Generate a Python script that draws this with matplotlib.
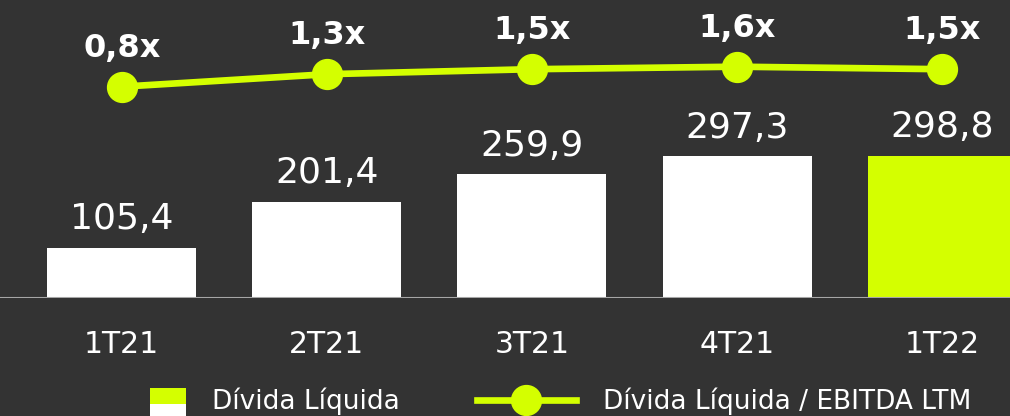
import matplotlib
matplotlib.use("Agg")
import matplotlib.pyplot as plt
from matplotlib.patches import Rectangle
from matplotlib.lines import Line2D

BG = "#333333"
LIME = "#D4FF00"
AXIS_GRAY = "#A6A6A6"

quarters = ["1T21", "2T21", "3T21", "4T21", "1T22"]
net_debt = [105.4, 201.4, 259.9, 297.3, 298.8]
leverage = [0.8, 1.3, 1.5, 1.6, 1.5]
bar_colors = ["white", "white", "white", "white", LIME]

plt.rcParams["font.family"] = ["DejaVu Sans"]


def br(v, suffix=""):
    # brazilian decimal comma
    return f"{v:.1f}".replace(".", ",") + suffix


class SplitSwatch:
    """Legend swatch: lime on top, white below (as in the slide)."""

    def legend_artist(self, legend, orig_handle, fontsize, handlebox):
        w, h = handlebox.width, handlebox.height
        x0, y0 = -handlebox.xdescent, -handlebox.ydescent
        cy = y0 + h / 2
        tr = handlebox.get_transform()
        bot = Rectangle((x0 + w - 25, cy - 15), 26, 12.5,
                        facecolor="white", edgecolor="none", transform=tr)
        top = Rectangle((x0 + w - 25, cy - 3), 26, 11.5,
                        facecolor=LIME, edgecolor="none", transform=tr)
        handlebox.add_artist(bot)
        handlebox.add_artist(top)
        return top


fig = plt.figure(figsize=(10.1, 4.16), dpi=100, facecolor=BG)
ax = fig.add_axes([0, 118 / 416, 1, 298 / 416])
ax.set_facecolor("none")

x = list(range(len(quarters)))
bars = ax.bar(x, net_debt, width=0.7265, color=bar_colors, zorder=2)
ax.set_xlim(-0.5934, 4.331)
ax.set_ylim(0, 626)
ax.axhline(0, color=AXIS_GRAY, linewidth=1.5, zorder=3)

for xi, v in zip(x, net_debt):
    ax.annotate(br(v), (xi, v), xytext=(0, 13.5), textcoords="offset points",
                ha="center", va="baseline", fontsize=26, color="white")

ax.set_xticks(x)
ax.set_xticklabels(quarters, fontsize=21.5, color="white")
ax.tick_params(axis="x", length=0, pad=23)
ax.set_yticks([])
for s in ax.spines.values():
    s.set_visible(False)

ax2 = ax.twinx()
ax2.set_ylim(-7.652, 4.268)
ax2.plot(x, leverage, color=LIME, linewidth=4.8, marker="o", markersize=21.5,
         zorder=4)
for xi, v in zip(x, leverage):
    ax2.annotate(br(v, "x"), (xi, v), xytext=(0, 21.6), textcoords="offset points",
                 ha="center", va="baseline", fontsize=23, fontweight="bold",
                 color="white")
ax2.set_yticks([])
for s in ax2.spines.values():
    s.set_visible(False)

bar_handle = Rectangle((0, 0), 1, 1)
line_handle = Line2D([], [], color=LIME, linewidth=4.8, marker="o", markersize=21.5)
leg = fig.legend([bar_handle, line_handle],
                 ["Dívida Líquida", "Dívida Líquida / EBITDA LTM"],
                 handler_map={bar_handle: SplitSwatch()},
                 loc="center left", bbox_to_anchor=(86 / 1010, 1 - 401 / 416),
                 ncol=2, frameon=False, fontsize=19, labelcolor="white",
                 handlelength=3.75, handletextpad=1.02, columnspacing=2.92,
                 borderpad=0, borderaxespad=0, numpoints=1)

fig.savefig("out.png", dpi=100, facecolor=BG)
